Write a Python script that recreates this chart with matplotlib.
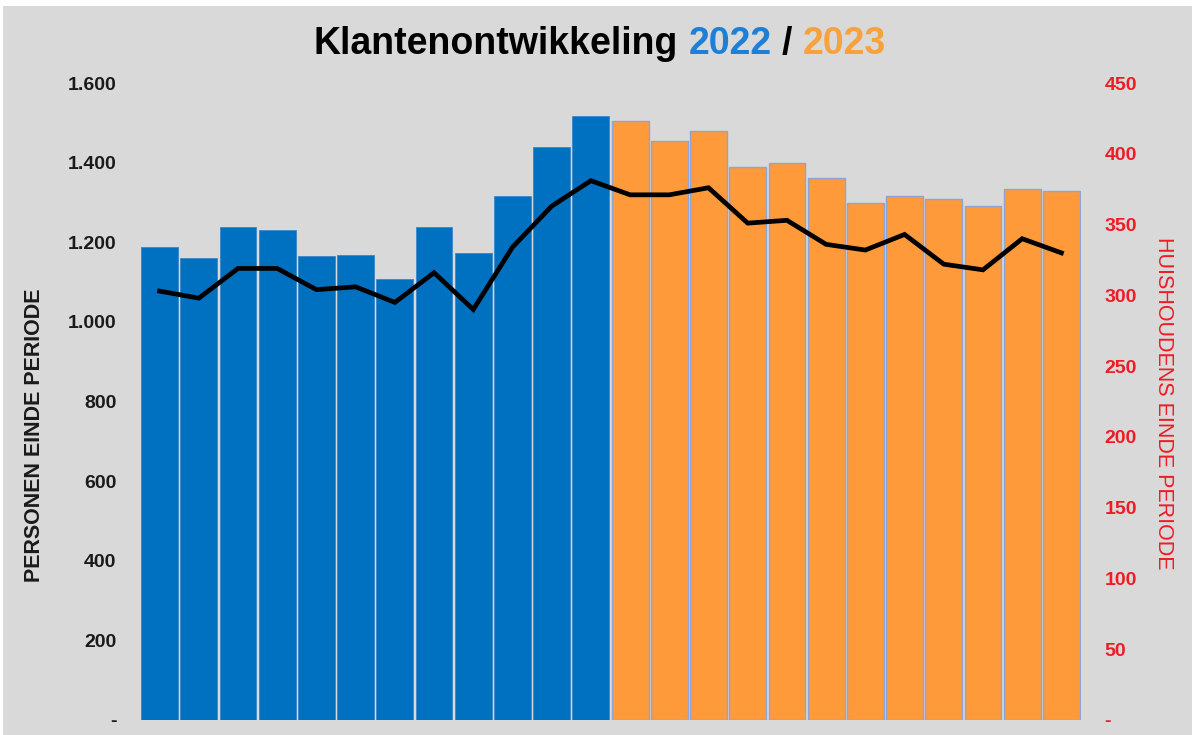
import matplotlib
matplotlib.use("Agg")
from matplotlib import pyplot as plt
from matplotlib.ticker import FuncFormatter, MultipleLocator
from matplotlib.patches import Rectangle

# data
personen_2022 = [1188, 1161, 1239, 1231, 1166, 1168, 1108, 1239, 1173, 1317, 1440, 1518]
personen_2023 = [1505, 1455, 1480, 1389, 1400, 1362, 1299, 1317, 1309, 1291, 1334, 1329]
huishoudens = [303, 298, 319, 319, 304, 306, 295, 316, 290, 334, 363, 381,
               371, 371, 376, 351, 353, 336, 332, 343, 322, 318, 340, 330]

BG = "#d9d9d9"
BLUE = "#0070c0"
ORANGE = "#fe9a3a"
RED = "#ee1c25"
FONT = "Liberation Sans"

plt.rcParams["font.family"] = [FONT, "DejaVu Sans"]

fig = plt.figure(figsize=(11.92, 7.35), dpi=100, facecolor="white")
fig.patches.append(Rectangle((3 / 1192, 0), 1, 1 - 6 / 735, transform=fig.transFigure,
                             facecolor=BG, edgecolor="none", zorder=-10))

ax = fig.add_axes([140 / 1192, 15 / 735, 941 / 1192, 637 / 735])
ax.set_facecolor(BG)

n22 = len(personen_2022)
x22 = list(range(n22))
x23 = list(range(n22, n22 + len(personen_2023)))
ax.bar(x22, personen_2022, width=0.94, color=BLUE, edgecolor="#3a86c8", linewidth=0.6)
ax.bar(x23, personen_2023, width=0.94, color=ORANGE, edgecolor="#8ea4d2", linewidth=1.0)

ax.set_xlim(-0.5, len(huishoudens) - 0.5)
ax.set_ylim(0, 1600)
ax.yaxis.set_major_locator(MultipleLocator(200))


def dotted(v, pos):
    if v == 0:
        return "-"
    return f"{v:,.0f}".replace(",", ".")


ax.yaxis.set_major_formatter(FuncFormatter(dotted))
ax.tick_params(axis="y", length=0, pad=17, labelsize=14, labelcolor="#1a1a1a")
for lbl in ax.get_yticklabels():
    lbl.set_fontweight("bold")
ax.set_xticks([])
for s in ax.spines.values():
    s.set_visible(False)

ax2 = ax.twinx()
ax2.plot(range(len(huishoudens)), huishoudens, color="black", linewidth=3.4,
         solid_joinstyle="miter")
ax2.set_ylim(0, 450)
ax2.yaxis.set_major_locator(MultipleLocator(50))
ax2.yaxis.set_major_formatter(FuncFormatter(lambda v, p: "-" if v == 0 else f"{v:.0f}"))
ax2.tick_params(axis="y", length=0, pad=17, labelsize=14, labelcolor=RED)
for lbl in ax2.get_yticklabels():
    lbl.set_fontweight("bold")
for s in ax2.spines.values():
    s.set_visible(False)

fig.text(35 / 1192, 1 - 435 / 735, "PERSONEN EINDE PERIODE", rotation=90,
         ha="center", va="center", fontsize=15.5, fontweight="bold", color="#1a1a1a")
fig.text(1163 / 1192, 1 - 403 / 735, "HUISHOUDENS EINDE PERIODE", rotation=270,
         ha="center", va="center", fontsize=15.5, color=RED)

# multi-coloured title, pieces placed side by side
parts = [("Klantenontwikkeling", "black"), (" ", None), ("2022", "#1e7fd6"),
         (" ", None), ("/", "black"), (" ", None), ("2023", "#f8a23e")]
renderer = fig.canvas.get_renderer()
tsize = 27
probe1 = fig.text(0, 0, "KK", fontsize=tsize, fontweight="bold")
probe2 = fig.text(0, 0, "K K", fontsize=tsize, fontweight="bold")
space_w = probe2.get_window_extent(renderer).width - probe1.get_window_extent(renderer).width
probe1.remove()
probe2.remove()

texts = []
total = 0.0
for s, c in parts:
    if c is None:
        texts.append((None, space_w))
        total += space_w
        continue
    t = fig.text(0, 1 - 54 / 735, s, fontsize=tsize, fontweight="bold", color=c, va="baseline")
    w = t.get_window_extent(renderer).width
    texts.append((t, w))
    total += w

xpix = 600 - total / 2
for t, w in texts:
    if t is not None:
        t.set_x(xpix / 1192)
    xpix += w

fig.savefig("out.png", dpi=100, facecolor=fig.get_facecolor())
